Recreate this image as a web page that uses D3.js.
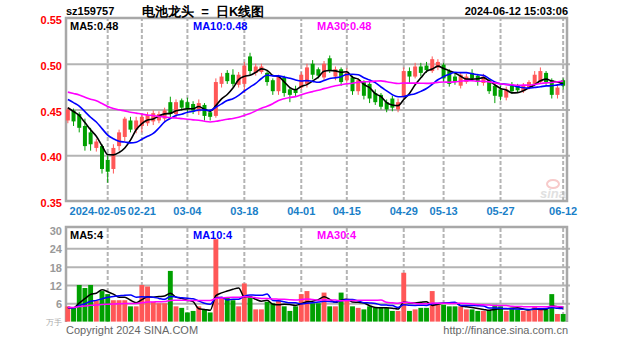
<!DOCTYPE html>
<html>
<head>
<meta charset="utf-8">
<script src="https://cdn.jsdelivr.net/npm/d3@7"></script>
<style>
  body { margin: 0; background: #fff; }
  svg { display: block; }
  text { font-family: "Liberation Sans", Arial, sans-serif; }
</style>
</head>
<body>
<svg id="chart" width="627" height="342"></svg>
<script>
// ---- sz159757 daily sessions ----
const dates = [
  "2024-01-25","2024-01-26","2024-01-29","2024-01-30","2024-01-31","2024-02-01","2024-02-02","2024-02-05",
  "2024-02-06","2024-02-07","2024-02-08","2024-02-19","2024-02-20","2024-02-21","2024-02-22","2024-02-23",
  "2024-02-26","2024-02-27","2024-02-28","2024-02-29","2024-03-01","2024-03-04","2024-03-05","2024-03-06",
  "2024-03-07","2024-03-08","2024-03-11","2024-03-12","2024-03-13","2024-03-14","2024-03-15","2024-03-18",
  "2024-03-19","2024-03-20","2024-03-21","2024-03-22","2024-03-25","2024-03-26","2024-03-27","2024-03-28",
  "2024-03-29","2024-04-01","2024-04-02","2024-04-03","2024-04-08","2024-04-09","2024-04-10","2024-04-11",
  "2024-04-12","2024-04-15","2024-04-16","2024-04-17","2024-04-18","2024-04-19","2024-04-22","2024-04-23",
  "2024-04-24","2024-04-25","2024-04-26","2024-04-29","2024-04-30","2024-05-06","2024-05-07","2024-05-08",
  "2024-05-09","2024-05-10","2024-05-13","2024-05-14","2024-05-15","2024-05-16","2024-05-17","2024-05-20",
  "2024-05-21","2024-05-22","2024-05-23","2024-05-24","2024-05-27","2024-05-28","2024-05-29","2024-05-30",
  "2024-05-31","2024-06-03","2024-06-04","2024-06-05","2024-06-06","2024-06-07","2024-06-11","2024-06-12"
];

const opens = [
  .438,.449,.445,.432,.425,.408,.410,.395,.385,.410,.420,.438,.428,.432,.435,.437,
  .438,.440,.458,.445,.460,.458,.456,.448,.455,.447,.443,.478,.490,.488,.477,.478,
  .508,.490,.491,.490,.482,.470,.485,.472,.472,.474,.478,.500,.494,.485,.506,.486,
  .494,.482,.485,.470,.480,.478,.468,.466,.458,.462,.450,.464,.492,.486,.497,.498,
  .492,.496,.499,.492,.486,.476,.480,.490,.487,.479,.482,.476,.472,.463,.476,.476,
  .470,.474,.478,.480,.490,.482,.466,.482
];
const highs = [
  .452,.451,.447,.440,.430,.418,.412,.400,.412,.428,.442,.442,.442,.446,.447,.449,
  .448,.452,.464,.461,.462,.463,.459,.461,.457,.450,.484,.490,.493,.494,.491,.502,
  .512,.500,.500,.492,.484,.488,.487,.474,.476,.491,.500,.504,.496,.503,.509,.497,
  .496,.495,.487,.484,.482,.481,.472,.468,.461,.465,.462,.496,.496,.501,.501,.502,
  .508,.505,.501,.494,.489,.491,.489,.494,.489,.489,.484,.479,.476,.475,.480,.478,
  .479,.482,.492,.496,.492,.484,.477,.484
];
const lows = [
  .435,.432,.425,.405,.405,.404,.380,.370,.380,.405,.415,.425,.424,.425,.432,.433,
  .435,.437,.441,.440,.449,.446,.445,.444,.438,.438,.441,.474,.478,.475,.474,.468,
  .488,.487,.489,.476,.466,.466,.464,.458,.464,.472,.474,.483,.484,.482,.490,.482,
  .476,.479,.466,.466,.461,.457,.455,.450,.447,.448,.447,.462,.478,.484,.486,.490,
  .490,.493,.480,.475,.477,.473,.478,.481,.476,.476,.467,.457,.460,.460,.467,.468,
  .468,.472,.476,.478,.477,.462,.462,.472
];
const closes = [
  .450,.437,.430,.410,.412,.415,.385,.382,.408,.425,.440,.428,.438,.442,.444,.446,
  .445,.449,.445,.458,.452,.450,.449,.457,.443,.442,.480,.486,.481,.478,.488,.498,
  .492,.497,.497,.480,.470,.486,.468,.466,.468,.488,.496,.488,.487,.500,.492,.494,
  .480,.490,.470,.482,.465,.462,.458,.453,.450,.452,.458,.492,.486,.497,.490,.493,
  .505,.502,.484,.478,.480,.488,.486,.484,.480,.486,.470,.465,.464,.472,.470,.471,
  .476,.480,.488,.492,.480,.466,.474,.476
];
// volume, 10k lots
const volumes = [
  5,4.5,12,11,12,7,10,9,7,7,7,5,5,12,11.5,6.5,
  6,6,16.6,5,4.5,3,3.5,5,4,3,27,8,8,7,5,12.5,
  8,4,4,6.5,6,7,5,3.5,5,9,10,6,6,9.5,5,5,
  9.5,7.5,5,4.5,4,5,4.5,4.5,4.5,3.5,3.5,16,3.5,4,4.5,4.5,
  10,5.5,5.5,5,5,5,4,4,3.5,3.5,3.5,5.5,5,3.5,4.5,4,
  3.5,3.5,5,4,4,9,2.5,2.5
];

// closes and volumes of the sessions before 2024-01-25, used to seed the moving averages
const priorCloses = [
  .482,.478,.485,.476,.470,.474,.480,.472,.468,.475,.472,.468,
  .474,.470,.466,.472,.468,.470,.466,.474,
  .472,.468,.470,.474,.466,
  .458,.452,.448,.452
];
const priorVolumes = [5,4,6,5,4,5,6,4,5,5,4,6,5,4,5,4,5,5,4,4,5,4,5,4,4,5,4,4,5];

const priceTicks = [0.35, 0.40, 0.45, 0.50, 0.55];
const priceGrid = [0.40, 0.45, 0.50];
const volumeTicks = [6, 12, 18, 24, 30];
const dateTicks = ["2024-02-05","2024-02-21","2024-03-04","2024-03-18","2024-04-01",
                   "2024-04-15","2024-04-29","2024-05-13","2024-05-27","2024-06-12"];
const maPeriods = [5, 10, 30];
const maColors = ["#000000", "#0000ff", "#ff00ff"];

// ---- layout ----
const L = 66, R = 567;
const mainTop = 18, mainBot = 201;
const volTop = 227, volBot = 322;
const RED = "#ff5757", GREEN = "#00a000", GRID = "#b4b4b4";

const svg = d3.select("#chart");

const x = d3.scaleBand().domain(dates).range([65, 566]).padding(0);
const cx = d => x(d) + x.bandwidth() / 2;
const yP = d3.scaleLinear().domain([0.35, 0.55]).range([mainBot, mainTop]);
const yV = d3.scaleLinear().domain([0, 30]).range([321.6, 230]);

function movingAverage(series, prior, n) {
  const all = prior.concat(series);
  const off = prior.length;
  return series.map((_, i) => d3.mean(all.slice(off + i - n + 1, off + i + 1)));
}

const data = dates.map((d, i) => ({
  date: d, open: opens[i], high: highs[i], low: lows[i], close: closes[i], vol: volumes[i],
  up: closes[i] >= opens[i]
}));

// ---- price panel grid and frame ----
{
  const g = svg.append("g");
  g.append("g")
    .attr("transform", `translate(${L},0)`)
    .call(d3.axisLeft(yP).tickValues(priceGrid).tickSize(-(R - L + 3)).tickFormat(""))
    .call(a => a.select(".domain").remove())
    .call(a => a.selectAll("line").attr("stroke", GRID).attr("stroke-width", 2));
  g.append("g")
    .attr("transform", `translate(0,${mainBot})`)
    .call(d3.axisBottom(x).tickValues(dateTicks).tickSize(-(mainBot - mainTop)).tickFormat(""))
    .call(a => a.select(".domain").remove())
    .call(a => a.selectAll("line").attr("stroke", GRID).attr("stroke-width", 2).attr("stroke-dasharray", "4,2"));
  g.append("rect").attr("x", L).attr("y", mainTop).attr("width", R - L).attr("height", mainBot - mainTop)
    .attr("fill", "none").attr("stroke", "#a8a8a8").attr("stroke-width", 2.5);
}
// ---- volume panel grid and frame (top, left, right) ----
{
  const g = svg.append("g");
  g.append("g")
    .attr("transform", `translate(${L},0)`)
    .call(d3.axisLeft(yV).tickValues([6, 12, 18, 24]).tickSize(-(R - L + 3)).tickFormat(""))
    .call(a => a.select(".domain").remove())
    .call(a => a.selectAll("line").attr("stroke", GRID).attr("stroke-width", 2));
  g.append("g")
    .attr("transform", `translate(0,${volBot})`)
    .call(d3.axisBottom(x).tickValues(dateTicks).tickSize(-(volBot - volTop)).tickFormat(""))
    .call(a => a.select(".domain").remove())
    .call(a => a.selectAll("line").attr("stroke", GRID).attr("stroke-width", 2).attr("stroke-dasharray", "4,2"));
  g.append("path")
    .attr("d", `M${L},${volBot}V${volTop}H${R}V${volBot}`)
    .attr("fill", "none").attr("stroke", "#a8a8a8").attr("stroke-width", 2.5);
}

// ---- watermark ----
const wm = svg.append("g").attr("opacity", 0.55);
wm.append("ellipse").attr("cx", 553).attr("cy", 184).attr("rx", 6).attr("ry", 4)
  .attr("fill", "none").attr("stroke", "#f2a0a0").attr("stroke-width", 2);
wm.append("text").attr("x", 566).attr("y", 198).attr("text-anchor", "end")
  .attr("font-size", 13).attr("font-weight", "bold").attr("font-style", "italic")
  .attr("fill", "#c8c8c8").text("sina");

// ---- candles ----
const bw = 4;
const candles = svg.append("g");
candles.selectAll("line.wick").data(data).join("line")
  .attr("x1", d => cx(d.date)).attr("x2", d => cx(d.date))
  .attr("y1", d => yP(d.high)).attr("y2", d => yP(d.low))
  .attr("stroke", d => d.up ? RED : GREEN).attr("stroke-width", 1);
candles.selectAll("rect.body").data(data).join("rect")
  .attr("x", d => cx(d.date) - bw / 2)
  .attr("y", d => yP(Math.max(d.open, d.close)))
  .attr("width", bw)
  .attr("height", d => Math.max(1, Math.abs(yP(d.open) - yP(d.close))))
  .attr("fill", d => d.up ? RED : GREEN);

// ---- price moving averages ----
const priceMA = maPeriods.map(n => movingAverage(closes, priorCloses, n));
priceMA.forEach((ma, k) => {
  svg.append("path")
    .datum(ma)
    .attr("fill", "none").attr("stroke", maColors[k]).attr("stroke-width", 1.6)
    .attr("d", d3.line().x((v, i) => cx(dates[i])).y(v => yP(v)).curve(d3.curveMonotoneX));
});

// ---- volume bars ----
const vbw = x.bandwidth() - 0.8;
svg.append("g").selectAll("rect").data(data).join("rect")
  .attr("x", d => cx(d.date) - vbw / 2)
  .attr("y", d => yV(d.vol))
  .attr("width", vbw)
  .attr("height", d => yV(0) - yV(d.vol))
  .attr("fill", d => d.up ? RED : GREEN);

const volMA = maPeriods.map(n => movingAverage(volumes, priorVolumes, n));
volMA.forEach((ma, k) => {
  svg.append("path")
    .datum(ma)
    .attr("fill", "none").attr("stroke", maColors[k]).attr("stroke-width", 1.5)
    .attr("d", d3.line().x((v, i) => cx(dates[i])).y(v => yV(v)).curve(d3.curveMonotoneX));
});

// ---- axis labels ----
svg.append("g")
  .attr("transform", `translate(63,2)`)
  .call(d3.axisLeft(yP).tickValues(priceTicks).tickFormat(d3.format(".2f")).tickSize(0).tickPadding(1))
  .call(a => a.select(".domain").remove())
  .call(a => a.selectAll("text").attr("fill", "#ff0000").attr("font-size", 11)
    .attr("font-weight", "bold").attr("font-family", "Liberation Sans, Arial, sans-serif"));

svg.append("g")
  .attr("transform", `translate(63,1)`)
  .call(d3.axisLeft(yV).tickValues(volumeTicks).tickFormat(d3.format("d")).tickSize(0).tickPadding(1))
  .call(a => a.select(".domain").remove())
  .call(a => a.selectAll("text").attr("fill", "#999999").attr("font-size", 11)
    .attr("font-weight", "bold").attr("font-family", "Liberation Sans, Arial, sans-serif"));
svg.append("text").attr("x", 62).attr("y", 325).attr("text-anchor", "end")
  .attr("font-size", 8).attr("fill", "#aaaaaa").text("万手");

const dateAxis = svg.append("g")
  .attr("transform", `translate(0,${mainBot})`)
  .call(d3.axisBottom(x).tickValues(dateTicks)
    .tickFormat((d, i) => i === 0 ? d : d.slice(5)).tickSize(0).tickPadding(6))
  .call(a => a.select(".domain").remove())
  .call(a => a.selectAll("text").attr("fill", "#1a80c8").attr("font-size", 11)
    .attr("font-weight", "bold").attr("font-family", "Liberation Sans, Arial, sans-serif"));
// the full first date ends just before the next label
dateAxis.selectAll(".tick").filter((d, i) => i === 0).select("text")
  .attr("text-anchor", "end").attr("x", x(dateTicks[1]) + x.bandwidth() / 2 - cx(dateTicks[0]) - 16);

// ---- header ----
svg.append("text").attr("x", 66).attr("y", 15).attr("font-size", 11).attr("font-weight", "bold")
  .attr("fill", "#000").text("sz159757");
svg.append("text").attr("x", 142).attr("y", 16).attr("font-size", 13).attr("font-weight", "bold")
  .attr("font-family", "Noto Sans CJK SC, sans-serif").attr("fill", "#000")
  .style("white-space", "pre").text("电池龙头  =  日K线图");
svg.append("text").attr("x", 568).attr("y", 15).attr("text-anchor", "end").attr("font-size", 11)
  .attr("font-weight", "bold").attr("fill", "#000").text("2024-06-12 15:03:06");

// ---- moving-average legends ----
const legendX = [70, 193, 317];
const last = arr => arr[arr.length - 1];
maPeriods.forEach((n, k) => {
  svg.append("text").attr("x", legendX[k]).attr("y", 30).attr("font-size", 11).attr("font-weight", "bold")
    .attr("fill", maColors[k]).text(`MA${n}:${d3.format(".2f")(last(priceMA[k]))}`);
  svg.append("text").attr("x", legendX[k]).attr("y", 239).attr("font-size", 11).attr("font-weight", "bold")
    .attr("fill", maColors[k]).text(`MA${n}:${Math.floor(last(volMA[k]))}`);
});

// ---- footer ----
svg.append("text").attr("x", 66).attr("y", 334).attr("font-size", 11).attr("fill", "#666")
  .text("Copyright 2024 SINA.COM");
svg.append("text").attr("x", 568).attr("y", 334).attr("text-anchor", "end").attr("font-size", 11)
  .attr("fill", "#666").text("http://finance.sina.com.cn");
</script>
</body>
</html>
